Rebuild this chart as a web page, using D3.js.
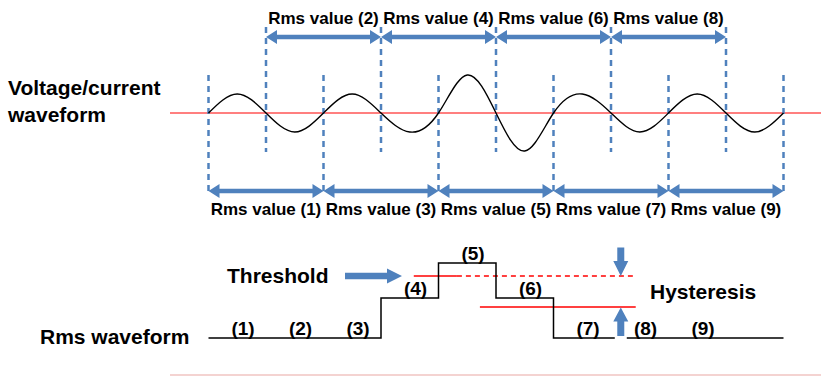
<!DOCTYPE html>
<html>
<head>
<meta charset="utf-8">
<title>Rms waveform and hysteresis</title>
<script src="https://d3js.org/d3.v7.min.js"></script>
<style>
body { margin: 0; background: #fff; }
svg text { font-family: "Liberation Sans", Arial, sans-serif; font-weight: bold; fill: #000; }
</style>
</head>
<body>
<svg width="821" height="376"></svg>
<script>
// half-cycle boundaries (index of each zero crossing)
var boundaries = [0, 1, 2, 3, 4, 5, 6, 7, 8, 9, 10];
// peak of each half cycle (relative amplitude)
var halfPeaks = [1, -1, 1, -1, 2, -2, 1, -1, 1, -1];
// rms value computed over each window, shown per half cycle
var rmsNames = ["(1)", "(2)", "(3)", "(4)", "(5)", "(6)", "(7)", "(8)", "(9)"];
var rmsLevels = [1, 1, 1, 1.4, 1.75, 1.4, 1, 1, 1];
var windowLabels = ["Rms value (1)", "Rms value (2)", "Rms value (3)", "Rms value (4)", "Rms value (5)",
  "Rms value (6)", "Rms value (7)", "Rms value (8)", "Rms value (9)"];
var threshold = 1.62;
var release = 1.31;

var blue = "#4f81bd";
var svg = d3.select("svg");

var x = d3.scaleLinear().domain([0, 10]).range([208.5, 783.5]);
var yWave = d3.scaleLinear().domain([-1, 1]).range([132, 94]);
var yRms = d3.scaleLinear().domain([1, 2]).range([338, 238]);

// arrow polygon along +x, length len, centred on y=0
function arrowPath(len, shaft, headLen, headW, both) {
  var s = shaft / 2, h = headW / 2, p;
  if (both) {
    p = [[0, 0], [headLen, -h], [headLen, -s], [len - headLen, -s], [len - headLen, -h], [len, 0],
      [len - headLen, h], [len - headLen, s], [headLen, s], [headLen, h]];
  } else {
    p = [[0, -s], [len - headLen, -s], [len - headLen, -h], [len, 0], [len - headLen, h], [len - headLen, s], [0, s]];
  }
  return "M" + p.map(function(d) { return d.join(","); }).join("L") + "Z";
}

// zero lines
svg.append("line").attr("x1", 170).attr("x2", 821).attr("y1", yWave(0)).attr("y2", yWave(0))
  .attr("stroke", "#ff0000").attr("stroke-width", 1.2);
svg.append("line").attr("x1", 170).attr("x2", 821).attr("y1", 375).attr("y2", 375)
  .attr("stroke", "#eaa8a4").attr("stroke-width", 1.2);

// dashed window markers
svg.selectAll(".mark").data(boundaries).enter().append("line")
  .attr("class", "mark")
  .attr("x1", function(d) { return x(d); })
  .attr("x2", function(d) { return x(d); })
  .attr("y1", function(d) { return d % 2 ? 27 : 75; })
  .attr("y2", function(d) { return d % 2 ? 152 : 196; })
  .attr("stroke", blue).attr("stroke-width", 2.5).attr("stroke-dasharray", "6,5");

// waveform through zero crossings and peaks
var wavePts = [];
boundaries.forEach(function(b, i) {
  wavePts.push([b, 0]);
  if (i < halfPeaks.length) wavePts.push([b + 0.5, halfPeaks[i]]);
});
var waveLine = d3.line()
  .x(function(d) { return x(d[0]); })
  .y(function(d) { return yWave(d[1]); })
  .curve(d3.curveNatural);
svg.append("path").attr("d", waveLine(wavePts))
  .attr("fill", "none").attr("stroke", "#000").attr("stroke-width", 1.4);

// window arrows and labels
windowLabels.forEach(function(t, k) {
  var a = k, b = k + 2;
  var top = k % 2 === 1;
  var ay = top ? 37 : 191;
  svg.append("path")
    .attr("d", arrowPath(x(b) - x(a), 4.5, 11, 14, true))
    .attr("transform", "translate(" + x(a) + "," + ay + ")")
    .attr("fill", blue);
  svg.append("text")
    .attr("x", (x(a) + x(b)) / 2)
    .attr("y", top ? 23.5 : 215)
    .attr("text-anchor", "middle")
    .attr("font-size", 17)
    .text(t);
});

// left labels
svg.append("text").attr("x", 8).attr("y", 95).attr("font-size", 21).text("Voltage/current");
svg.append("text").attr("x", 8).attr("y", 121.5).attr("font-size", 21).text("waveform");
svg.append("text").attr("x", 40).attr("y", 344).attr("font-size", 21).text("Rms waveform");

// threshold / hysteresis lines
svg.append("line").attr("x1", x(3.57)).attr("x2", x(4.32))
  .attr("y1", yRms(threshold)).attr("y2", yRms(threshold))
  .attr("stroke", "#ff0000").attr("stroke-width", 1.4);
svg.append("line").attr("x1", x(4.32)).attr("x2", x(7.38))
  .attr("y1", yRms(threshold)).attr("y2", yRms(threshold))
  .attr("stroke", "#ff0000").attr("stroke-width", 1.4).attr("stroke-dasharray", "5,4");
svg.append("line").attr("x1", x(4.72)).attr("x2", x(7.43))
  .attr("y1", yRms(release)).attr("y2", yRms(release))
  .attr("stroke", "#ff0000").attr("stroke-width", 1.4);

// rms staircase
var stepPts = rmsLevels.map(function(v, i) { return [i, v]; });
stepPts.push([10, rmsLevels[rmsLevels.length - 1]]);
var stepLine = d3.line()
  .x(function(d) { return x(d[0]); })
  .y(function(d) { return yRms(d[1]); })
  .curve(d3.curveStepAfter);
svg.append("path").attr("d", stepLine(stepPts))
  .attr("fill", "none").attr("stroke", "#000").attr("stroke-width", 1.5);

// gap in the staircase where the hysteresis arrow sits
var hx = x(7.17);
svg.append("rect").attr("x", hx - 6).attr("y", yRms(1) - 3).attr("width", 12).attr("height", 6).attr("fill", "#fff");

svg.selectAll(".rmsn").data(rmsNames).enter().append("text")
  .attr("class", "rmsn")
  .attr("x", function(d, i) { return x(i + 0.6); })
  .attr("y", function(d, i) { return yRms(rmsLevels[i]) - 3.5; })
  .attr("text-anchor", "middle")
  .attr("font-size", 19)
  .text(function(d) { return d; });

// threshold arrow and label
svg.append("path").attr("d", arrowPath(57, 6.5, 15, 15, false))
  .attr("transform", "translate(345," + yRms(threshold) + ")")
  .attr("fill", blue);
svg.append("text").attr("x", 227).attr("y", 283).attr("font-size", 21).text("Threshold");

// hysteresis arrows and label
svg.append("path").attr("d", arrowPath(28.5, 7, 15, 15, false))
  .attr("transform", "translate(" + hx + "," + (yRms(threshold) - 28.5) + ") rotate(90)")
  .attr("fill", blue);
svg.append("path").attr("d", arrowPath(28.5, 7, 14, 15, false))
  .attr("transform", "translate(" + hx + "," + (yRms(release) + 29) + ") rotate(-90)")
  .attr("fill", blue);
svg.append("text").attr("x", 650).attr("y", 299).attr("font-size", 21).text("Hysteresis");
</script>
</body>
</html>
